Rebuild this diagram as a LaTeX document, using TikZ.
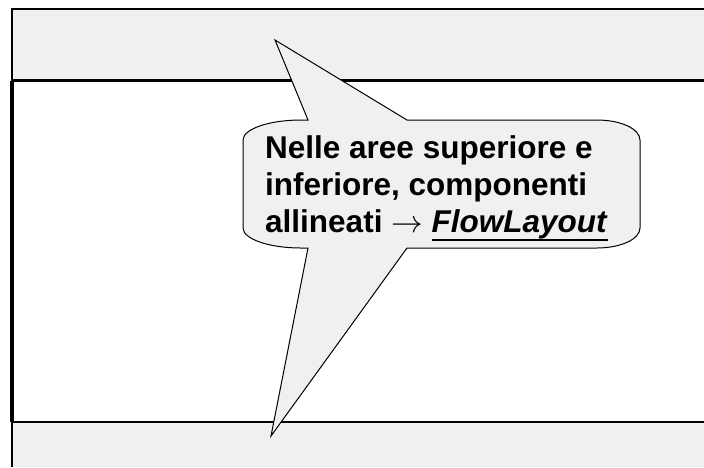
\documentclass[tikz,border=0pt]{standalone}
\usepackage{fontspec}
\usepackage{graphicx}
\setmainfont{Liberation Sans}
\newcommand\myul[1]{\setbox0\hbox{#1}\rlap{\rule[-9.4pt]{\wd0}{2.8pt}}\box0}
\newcommand\bigarrow{\scalebox{1.27}{$\rightarrow$}}
\definecolor{bandgrey}{HTML}{F0F0F0}
\tikzset{
  band/.style={fill=bandgrey, draw=none},
  frameline/.style={draw=black, line width=2.2pt},
  callout/.style={fill=bandgrey, draw=black, line width=1pt, line join=miter},
  calltext/.style={anchor=base west, inner sep=0pt, font=\bfseries\fontsize{31.5}{37}\selectfont}
}
\begin{document}
\begin{tikzpicture}[x=1pt, y=-1pt]
\useasboundingbox (0,0) rectangle (704,467);
\fill[white] (0,0) rectangle (704,467);
% bands
\path[band] (12,9) rectangle (704,80.5);
\path[band] (12,422) rectangle (704,467);
% frame lines
\coordinate (tl) at (12,9);
\coordinate (tr) at (704,9);
\coordinate (ml) at (12,80.5);
\coordinate (mr) at (704,80.5);
\coordinate (bl) at (12,422);
\coordinate (br) at (704,422);
\coordinate (bb) at (12,467);
\draw[frameline] (tl) -- (tr);
\draw[frameline] (ml) -- (mr);
\draw[frameline] (bl) -- (br);
\draw[draw=black, line width=2pt] (12,8) -- (ml);
\draw[draw=black, line width=3.4pt] (11.8,80.5) -- (11.8,422);
\draw[draw=black, line width=2pt] (bl) -- (bb);
% callout
\coordinate (toptip) at (275,40);
\coordinate (bottip) at (271,436);
\draw[callout]
  (308,120) -- (toptip) -- (407,120) -- (597,120)
  .. controls (621,120) and (640,129) .. (640,140)
  -- (640,228)
  .. controls (640,239) and (621,248) .. (597,248)
  -- (407,248) -- (bottip) -- (308,248) -- (301,248)
  .. controls (269,248) and (243,239) .. (243,228)
  -- (243,140)
  .. controls (243,129) and (269,120) .. (301,120)
  -- cycle;
% text
\node[calltext] (l1) at (265,158) {Nelle aree superiore e};
\node[calltext] (l2) at (265,195) {inferiore, componenti};
\node[calltext] (l3) at (265,232) {allineati \bigarrow\ \myul{\textit{FlowLayout}}};
\end{tikzpicture}
\end{document}
